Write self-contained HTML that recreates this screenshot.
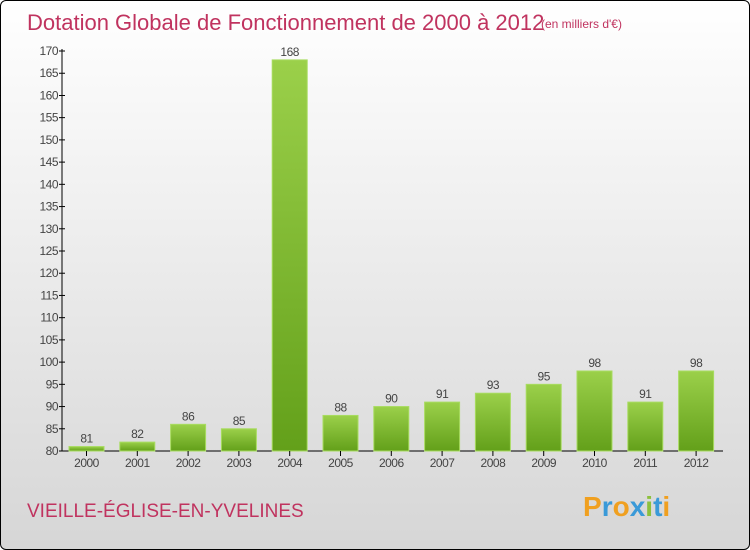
<!DOCTYPE html>
<html><head><meta charset="utf-8"><style>
body{margin:0}
#c{position:relative;width:748px;height:548px;border:1px solid #000;border-radius:6px;background:linear-gradient(#ffffff,#d6d6d6);overflow:hidden;font-family:"Liberation Sans",sans-serif}
</style></head><body>
<div id="c">
<svg width="748" height="548" style="position:absolute;left:0;top:0" id="svg">
<defs><linearGradient id="g" x1="0" y1="0" x2="0" y2="1"><stop offset="0" stop-color="#9bd04a"/><stop offset="1" stop-color="#63a01a"/></linearGradient></defs>
<text x="26" y="29" font-size="22" fill="#c0335f">Dotation Globale de Fonctionnement de 2000 à 2012</text>
<text x="540" y="27" font-size="12" fill="#c0335f">(en milliers d'€)</text>
<text x="26" y="516" font-size="19" fill="#c0335f">VIEILLE-ÉGLISE-EN-YVELINES</text>
<text x="582" y="515" font-size="28" font-weight="bold"><tspan fill="#f0a020">P</tspan><tspan fill="#3a9ad8">r</tspan><tspan fill="#f0a020">o</tspan><tspan fill="#3a9ad8">x</tspan><tspan fill="#8cc03c">i</tspan><tspan fill="#3a9ad8">t</tspan><tspan fill="#f0a020">i</tspan></text>
<g id="plot"></g>
</svg>
</div>
<script>
const years=["2000","2001","2002","2003","2004","2005","2006","2007","2008","2009","2010","2011","2012"];
const values=[81,82,86,85,168,88,90,91,93,95,98,91,98];
const yTicks=[80,85,90,95,100,105,110,115,120,125,130,135,140,145,150,155,160,165,170];
const NS="http://www.w3.org/2000/svg";
const g=document.getElementById('plot');
const y=v=>450-(v-80)*400/90;
const x=i=>85.5+i*50.8;
function mk(t,a){const e=document.createElementNS(NS,t);for(const k in a)e.setAttribute(k,a[k]);g.appendChild(e);return e;}
let ax=mk('line',{x1:61,y1:48,x2:61,y2:450,stroke:'#000'});


let xa=mk('line',{x1:61,y1:450,x2:722,y2:450,stroke:'#000'});


yTicks.forEach(t=>{
 const l=mk('line',{x1:58,x2:64,y1:y(t),y2:y(t),stroke:'#000'});
 
 
 const tx=mk('text',{x:57,y:y(t)+4,'font-size':12,'text-anchor':'end',fill:'#444','letter-spacing':'-0.5'});
 tx.textContent=t;
 
 
});
years.forEach((yr,i)=>{
 const v=values[i];
 const r=mk('rect',{x:x(i)-17.5,y:y(v),width:35,height:450-y(v),fill:'url(#g)',stroke:'#a8dc60','stroke-width':1});
 
 
 const t=mk('line',{x1:x(i),x2:x(i),y1:450,y2:455,stroke:'#000'});
 
 
 const lb=mk('text',{x:x(i),y:466,'font-size':12,'text-anchor':'middle',fill:'#444','letter-spacing':'-0.5'});
 lb.textContent=yr;
 
 
 const vl=mk('text',{x:x(i),y:y(v)-4,'font-size':12,'text-anchor':'middle',fill:'#444','letter-spacing':'-0.5'});
 vl.textContent=v;
 
 
});
</script>
</body></html>
